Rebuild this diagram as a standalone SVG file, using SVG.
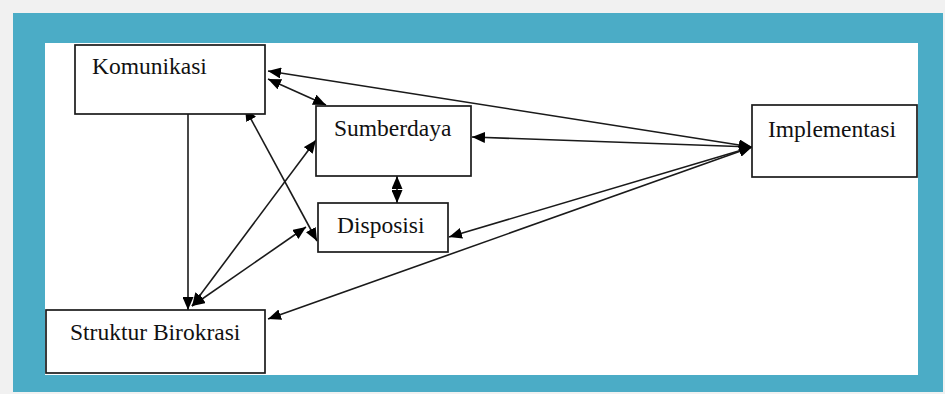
<svg xmlns="http://www.w3.org/2000/svg" width="945" height="394" viewBox="0 0 945 394">
<style>
.box{fill:#fff;stroke:#1a1a1a;stroke-width:1.7}
.lbl{font-family:"Liberation Serif","Times New Roman",serif;font-size:23.5px;fill:#111}
.con line{stroke:#1a1a1a;stroke-width:1.6;fill:none}
.bi{marker-start:url(#ah);marker-end:url(#ah)}
.uni{marker-end:url(#ah)}
</style>
<defs>
<marker id="ah" viewBox="0 0 13 11" refX="13" refY="5.5" markerWidth="13" markerHeight="11" markerUnits="userSpaceOnUse" orient="auto-start-reverse">
<path d="M0,0 L13,5.5 L0,11 z" fill="#000"/>
</marker>
</defs>
<rect x="0" y="0" width="945" height="394" fill="#f1f1f1"/>
<rect x="13" y="13" width="930" height="379" fill="#4bacc6"/>
<rect x="45" y="43" width="873" height="332" fill="#fff"/>
<g class="con">
<line class="bi" x1="268" y1="71" x2="752" y2="147"/>
<line class="bi" x1="268" y1="79" x2="326" y2="105"/>
<line class="bi" x1="245" y1="108" x2="317" y2="241"/>
<line class="uni" x1="188" y1="114" x2="188" y2="310"/>
<line class="bi" x1="316" y1="140" x2="192" y2="306"/>
<line class="bi" x1="306" y1="227" x2="192" y2="306"/>
<line class="bi" x1="397" y1="176" x2="397" y2="203"/>
<line class="bi" x1="752" y1="147" x2="472" y2="137"/>
<line class="bi" x1="752" y1="147" x2="449" y2="237"/>
<line class="bi" x1="752" y1="147" x2="268" y2="319"/>
</g>
<g id="komunikasi">
<rect class="box" x="75" y="45" width="190" height="69"/>
<text class="lbl" x="92" y="74">Komunikasi</text>
</g>
<g id="sumberdaya">
<rect class="box" x="316" y="106" width="155" height="70"/>
<text class="lbl" x="334" y="136">Sumberdaya</text>
</g>
<g id="disposisi">
<rect class="box" x="318" y="203" width="130" height="49"/>
<text class="lbl" x="337" y="233">Disposisi</text>
</g>
<g id="implementasi">
<rect class="box" x="752" y="105" width="165" height="72"/>
<text class="lbl" x="768" y="137">Implementasi</text>
</g>
<g id="struktur-birokrasi">
<rect class="box" x="46" y="310" width="219" height="63"/>
<text class="lbl" x="70" y="340">Struktur Birokrasi</text>
</g>
</svg>
